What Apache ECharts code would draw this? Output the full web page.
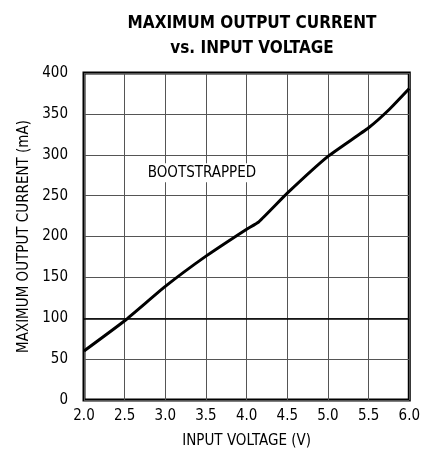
<!DOCTYPE html>
<html>
<head>
<meta charset="utf-8">
<script src="https://cdn.jsdelivr.net/npm/echarts@6/dist/echarts.min.js"></script>
<style>
  html, body { margin: 0; padding: 0; background: #fff; }
  #chart { width: 423px; height: 460px; }
</style>
</head>
<body>
<div id="chart"></div>
<script>
// values
const inputVoltage = [2.0, 2.5, 3.0, 3.5, 4.0, 4.15, 4.5, 5.0, 5.5, 5.75, 6.0];
const outputCurrent = [60, 97, 139, 176, 209, 218, 253, 298, 333, 355, 381];
const curveLabel = "BOOTSTRAPPED";
const labelAt = [3.45, 278];

const font = "'Liberation Sans Narrow', 'DejaVu Sans Condensed', sans-serif";

const chart = echarts.init(document.getElementById("chart"));

const option = {
  animation: false,
  backgroundColor: "#fff",
  title: {
    text: "MAXIMUM OUTPUT CURRENT\nvs. INPUT VOLTAGE",
    left: 247,
    textAlign: "center",
    top: 6,
    textStyle: {
      fontFamily: font,
      fontWeight: "bold",
      fontSize: 17,
      lineHeight: 25,
      color: "#000",
    },
  },
  grid: {
    left: 84,
    right: 12,
    top: 73,
    bottom: 60,
    show: true,
    borderColor: "#000",
    borderWidth: 3,
  },
  xAxis: {
    type: "value",
    min: 2,
    max: 6,
    interval: 0.5,
    name: "INPUT VOLTAGE (V)",
    nameLocation: "middle",
    nameGap: 34,
    nameTextStyle: { fontFamily: font, fontSize: 15, color: "#000" },
    axisLine: { show: false },
    axisTick: { show: false },
    axisLabel: {
      margin: 9,
      fontFamily: font,
      fontSize: 15,
      color: "#000",
      formatter: (v) => v.toFixed(1),
    },
    splitLine: { lineStyle: { color: "#555", width: 1 } },
  },
  yAxis: {
    type: "value",
    min: 0,
    max: 400,
    interval: 50,
    name: "MAXIMUM OUTPUT CURRENT (mA)",
    nameLocation: "middle",
    nameGap: 52,
    nameTextStyle: { fontFamily: font, fontSize: 15, color: "#000" },
    axisLine: { show: false },
    axisTick: { show: false },
    axisLabel: {
      margin: 16,
      fontFamily: font,
      fontSize: 15,
      color: "#000",
    },
    splitLine: { lineStyle: { color: "#555", width: 1 } },
  },
  series: [
    {
      type: "line",
      data: inputVoltage.map((v, i) => [v, outputCurrent[i]]),
      showSymbol: false,
      smooth: 0.15,
      lineStyle: { color: "#000", width: 3 },
      markLine: {
        silent: true,
        symbol: "none",
        label: { show: false },
        lineStyle: { color: "#000", width: 1.5, type: "solid" },
        data: [{ yAxis: 100 }],
      },
      markPoint: {
        silent: true,
        symbol: "circle",
        symbolSize: 0,
        data: [{ coord: labelAt }],
        label: {
          show: true,
          position: "inside",
          formatter: curveLabel,
          fontFamily: font,
          fontSize: 15,
          color: "#000",
          backgroundColor: "#fff",
          padding: [2, 2],
        },
      },
    },
  ],
};

chart.setOption(option);
</script>
</body>
</html>
